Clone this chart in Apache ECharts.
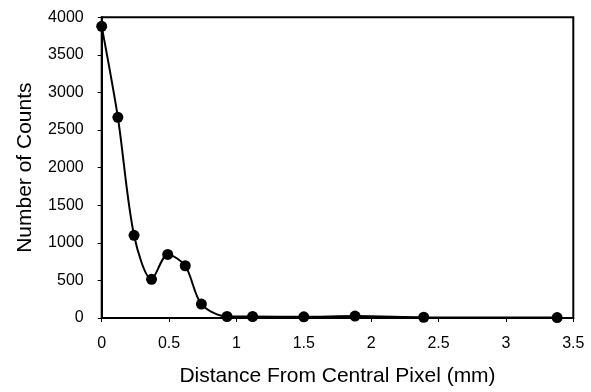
<!DOCTYPE html>
<html lang="en">
<head>
    <meta charset="UTF-8">
    <title>Counts vs Distance</title>
    <script src="https://cdnjs.cloudflare.com/ajax/libs/echarts/6.0.0/echarts.min.js"></script>
    <style>
        html, body { margin: 0; padding: 0; background: #fff; }
        #chart { width: 591px; height: 392px; }
    </style>
</head>
<body>
<div id="chart"></div>
<script>
    // distance from central pixel (mm) and counts
    const distances = [0, 0.12, 0.24, 0.37, 0.49, 0.62, 0.74, 0.93, 1.12, 1.5, 1.88, 2.39, 3.38];
    const counts = [3880, 2670, 1100, 515, 845, 695, 185, 20, 20, 15, 25, 10, 5];

    const xTitle = 'Distance From Central Pixel (mm)';
    const yTitle = 'Number of Counts';

    const font = '"Liberation Sans", Arial, sans-serif';

    const chart = echarts.init(document.getElementById('chart'));
    chart.setOption({
        animation: false,
        grid: {
            left: 101.7,
            right: 17.7,
            top: 17.3,
            bottom: 72,
            show: true,
            borderColor: '#000',
            borderWidth: 2
        },
        xAxis: {
            type: 'value',
            min: 0,
            max: 3.5,
            interval: 0.5,
            name: xTitle,
            nameLocation: 'middle',
            nameGap: 48,
            nameTextStyle: { color: '#000', fontSize: 21, fontFamily: font },
            axisLine: { lineStyle: { color: '#000', width: 2 } },
            axisTick: { show: true, inside: false, length: 4, lineStyle: { color: '#000', width: 1 } },
            axisLabel: { color: '#000', fontSize: 16, fontFamily: font, margin: 18 },
            splitLine: { show: false }
        },
        yAxis: {
            type: 'value',
            min: 0,
            max: 4000,
            interval: 500,
            name: yTitle,
            nameLocation: 'middle',
            nameGap: 66,
            nameTextStyle: { color: '#000', fontSize: 21, fontFamily: font },
            axisLine: { show: true, lineStyle: { color: '#000', width: 2 } },
            axisTick: { show: true, inside: false, length: 4, lineStyle: { color: '#000', width: 1 } },
            axisLabel: { color: '#000', fontSize: 16, fontFamily: font, margin: 18, formatter: v => String(v) },
            splitLine: { show: false }
        },
        series: [{
            type: 'line',
            data: distances.map((d, i) => [d, counts[i]]),
            smooth: 0.3,
            symbol: 'circle',
            symbolSize: 11,
            itemStyle: { color: '#000' },
            lineStyle: { color: '#000', width: 2 }
        }]
    });
</script>
</body>
</html>
